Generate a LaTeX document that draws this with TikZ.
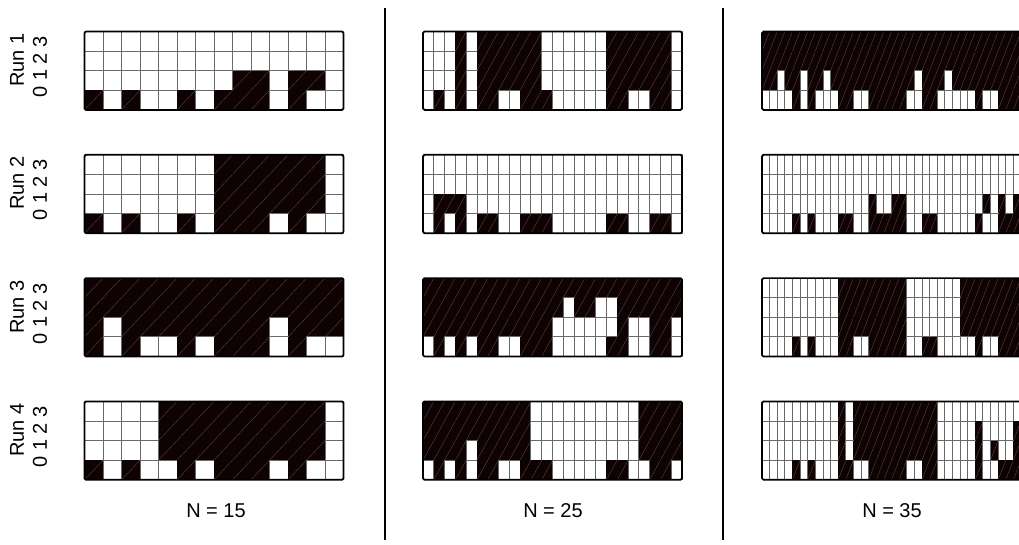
\documentclass[tikz,border=0pt]{standalone}
\usepackage{fontspec}
\setmainfont{Liberation Sans}
\definecolor{cellblack}{RGB}{14,2,2}
\definecolor{hatchc}{RGB}{80,62,62}
\definecolor{gridgray}{RGB}{105,105,105}
\newcount\cellk
\def\rowh{19.6}
\makeatletter
\newcommand\gridrow[4]{% #1 x0, #2 ytop, #3 cell width, #4 string of 0/1
  \cellk=0
  \@tfor\ch:=#4\do{%
    \pgfmathsetmacro\xa{#1+\the\cellk*#3}%
    \if\ch1%
      \fill[cellblack] (\xa,#2) rectangle ++(#3,\rowh);%
      \draw[hatchc,line width=0.45pt] (\xa,#2+\rowh) -- ++(#3,-\rowh);%
    \else
      \filldraw[fill=white,draw=gridgray,line width=0.9pt] (\xa,#2) rectangle ++(#3,\rowh);%
    \fi
    \global\advance\cellk by 1
  }}
\makeatother
\newcommand\panel[7]{% x0, y0, ncols, row3, row2, row1, row0
  \pgfmathsetmacro\cw{259/#3}%
  \gridrow{#1}{#2}{\cw}{#4}%
  \gridrow{#1}{#2+19.6}{\cw}{#5}%
  \gridrow{#1}{#2+39.2}{\cw}{#6}%
  \gridrow{#1}{#2+58.8}{\cw}{#7}%
  \draw[black,line width=1.7pt,rounded corners=1.5pt] (#1,#2) rectangle ++(259,78.4);
}
\begin{document}
\begin{tikzpicture}[x=1pt,y=-1pt,
  lab/.style={font=\fontsize{20}{20}\selectfont, inner sep=0pt},
  divider/.style={line width=1.7pt}]
\useasboundingbox (0,0) rectangle (1019,544);
\clip (0,0) rectangle (1019,544);
\fill[white] (0,0) rectangle (1019,544);

% ---------- N = 15 ----------
\panel{84.5}{31.5}{14}
 {00000000000000}{00000000000000}{00000000110110}{10100101110100}
\panel{84.5}{154.8}{14}
 {00000001111110}{00000001111110}{00000001111110}{10100101110100}
\panel{84.5}{278.1}{14}
 {11111111111111}{11111111111111}{10111111110111}{10100101110100}
\panel{84.5}{401.4}{14}
 {00001111111110}{00001111111110}{00001111111110}{10100101110100}

% ---------- N = 25 ----------
\panel{423}{31.5}{24}
 {000101111110000001111110}{000101111110000001111110}{000101111110000001111110}{010101100111000001100110}
\panel{423}{154.8}{24}
 {000000000000000000000000}{000000000000000000000000}{011100000000000000000000}{010101100111000001100110}
\panel{423}{278.1}{24}
 {111111111111111111111111}{111111111111101100111111}{111111111111000000100110}{010101100111000001100110}
\panel{423}{401.4}{24}
 {111111111100000000001111}{111111111100000000001111}{111101111100000000001111}{010101100111000001100110}

% ---------- N = 35 ----------
\panel{762}{31.5}{34}
 {1111111111111111111111111111111111}{1111111111111111111111111111111111}{1101101101111111111101110111111111}{0000101000110011111001100000100111}
\panel{762}{154.8}{34}
 {0000000000000000000000000000000000}{0000000000000000000000000000000000}{0000000000000010011000000000010101}{0000101000110011111001100000100111}
\panel{762}{278.1}{34}
 {0000000000111111111000000011111111}{0000000000111111111000000011111111}{0000000000111111111000000011111111}{0000101000110011111001100000100111}
\panel{762}{401.4}{34}
 {0000000000101111111111100000000000}{0000000000101111111111100000100001}{0000000000101111111111100000101001}{0000101000110011111001100000100111}

% ---------- dividers ----------
\draw[divider] (385,8) -- (385,540);
\draw[divider] (723,8) -- (723,540);

% ---------- labels ----------
\node[lab] (n15) at (216,511) {N = 15};
\node[lab] (n25) at (553,511) {N = 25};
\node[lab] (n35) at (892,511) {N = 35};

\node[lab,rotate=90] (run1) at (17,60) {Run 1};
\node[lab,rotate=90] (run2) at (17,183) {Run 2};
\node[lab,rotate=90] (run3) at (17,307) {Run 3};
\node[lab,rotate=90] (run4) at (17,430) {Run 4};

\node[lab,rotate=90] (ax1) at (40,67) {0 1 2 3};
\node[lab,rotate=90] (ax2) at (40,190) {0 1 2 3};
\node[lab,rotate=90] (ax3) at (40,314) {0 1 2 3};
\node[lab,rotate=90] (ax4) at (40,437) {0 1 2 3};
\end{tikzpicture}
\end{document}
